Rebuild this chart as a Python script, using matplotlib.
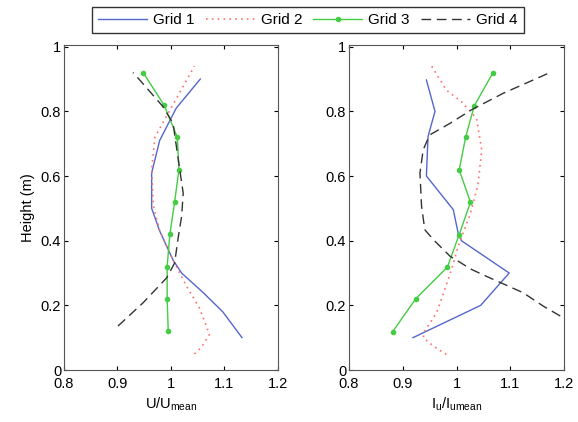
import matplotlib.pyplot as plt

plt.rcParams['font.family'] = ['Liberation Sans', 'DejaVu Sans']
plt.rcParams['font.size'] = 10.5

# Left panel: U/Umean vs height
g1_u_h = [0.10, 0.18, 0.24, 0.30, 0.34, 0.43, 0.50, 0.61, 0.71, 0.81, 0.90]
g1_u = [1.133, 1.097, 1.060, 1.020, 1.004, 0.979, 0.964, 0.964, 0.979, 1.010, 1.055]
g2_u_h = [0.05, 0.07, 0.11, 0.19, 0.26, 0.33, 0.43, 0.51, 0.62, 0.72, 0.83, 0.94]
g2_u = [1.044, 1.057, 1.072, 1.054, 1.029, 1.007, 0.979, 0.967, 0.964, 0.970, 1.007, 1.044]
g3_u_h = [0.12, 0.22, 0.32, 0.42, 0.52, 0.62, 0.72, 0.82, 0.92]
g3_u = [0.995, 0.993, 0.993, 0.998, 1.007, 1.015, 1.012, 0.987, 0.948]
g4_u_h = [0.136, 0.208, 0.285, 0.331, 0.403, 0.475, 0.547, 0.66, 0.763, 0.815, 0.902, 0.92]
g4_u = [0.901, 0.948, 0.992, 1.007, 1.013, 1.020, 1.023, 1.013, 1.004, 0.985, 0.939, 0.929]

# Right panel: Iu/Iumean vs height
g1_i_h = [0.10, 0.20, 0.30, 0.40, 0.424, 0.496, 0.60, 0.722, 0.80, 0.897]
g1_i = [0.919, 1.045, 1.098, 1.009, 1.003, 0.994, 0.944, 0.947, 0.960, 0.944]
g2_i_h = [0.048, 0.074, 0.10, 0.12, 0.177, 0.249, 0.311, 0.383, 0.48, 0.573, 0.681, 0.779, 0.83, 0.866, 0.95]
g2_i = [0.981, 0.957, 0.938, 0.941, 0.963, 0.978, 0.991, 1.003, 1.025, 1.040, 1.047, 1.037, 1.009, 0.981, 0.950]
g3_i_h = [0.118, 0.22, 0.318, 0.419, 0.519, 0.619, 0.72, 0.817, 0.92]
g3_i = [0.881, 0.924, 0.983, 1.005, 1.026, 1.005, 1.017, 1.033, 1.068]
g4_i_h = [0.167, 0.198, 0.239, 0.285, 0.311, 0.352, 0.403, 0.434, 0.506, 0.609, 0.681, 0.727, 0.763, 0.805, 0.856, 0.92]
g4_i = [1.193, 1.161, 1.124, 1.062, 1.028, 0.988, 0.957, 0.941, 0.935, 0.932, 0.938, 0.950, 0.988, 1.028, 1.087, 1.174]

c_blue = '#5566cc'
c_red = '#ff7070'
c_green = '#44cc44'
c_black = '#333333'

fig = plt.figure(figsize=(5.78, 4.22), dpi=100)
ax1 = fig.add_axes([0.1107, 0.1232, 0.370, 0.770])
ax2 = fig.add_axes([0.6038, 0.1232, 0.372, 0.770])


def draw(ax, d1, d2, d3, d4):
    l1, = ax.plot(d1[0], d1[1], color=c_blue, lw=1, label='Grid 1')
    l2, = ax.plot(d2[0], d2[1], color=c_red, lw=1.2, ls=(0, (1, 2.5)), label='Grid 2')
    l3, = ax.plot(d3[0], d3[1], color=c_green, lw=1, marker='o', ms=3, label='Grid 3')
    l4, = ax.plot(d4[0], d4[1], color=c_black, lw=1, ls=(0, (7, 4)), label='Grid 4')
    ax.set_xlim(0.8, 1.2)
    ax.set_ylim(0, 1.005)
    ax.set_xticks([0.8, 0.9, 1.0, 1.1, 1.2])
    ax.set_xticklabels(['0.8', '0.9', '1', '1.1', '1.2'])
    ax.set_yticks([0, 0.2, 0.4, 0.6, 0.8, 1.0])
    ax.set_yticklabels(['0', '0.2', '0.4', '0.6', '0.8', '1'])
    ax.tick_params(direction='in', top=True, right=True, length=3)
    ax.tick_params(axis='x', pad=5)
    ax.tick_params(axis='y', pad=2)
    for s in ax.spines.values():
        s.set_color('#555555')
    return [l1, l2, l3, l4]


handles = draw(ax1, (g1_u, g1_u_h), (g2_u, g2_u_h), (g3_u, g3_u_h), (g4_u, g4_u_h))
draw(ax2, (g1_i, g1_i_h), (g2_i, g2_i_h), (g3_i, g3_i_h), (g4_i, g4_i_h))

ax1.set_ylabel('Height (m)', labelpad=4)
ax1.set_xlabel('U/U$_{\\mathregular{mean}}$', labelpad=3)
ax2.set_xlabel('I$_{\\mathregular{u}}$/I$_{\\mathregular{umean}}$', labelpad=3)

fig.legend(handles=handles, loc='center', ncol=4, mode='expand',
           bbox_to_anchor=(0.159, 0.917, 0.747, 0.071),
           frameon=True, fancybox=False, edgecolor='black',
           handlelength=3.2, handletextpad=0.4, columnspacing=0.8,
           borderaxespad=0, fontsize=11)

fig.savefig('out.png', dpi=100)
